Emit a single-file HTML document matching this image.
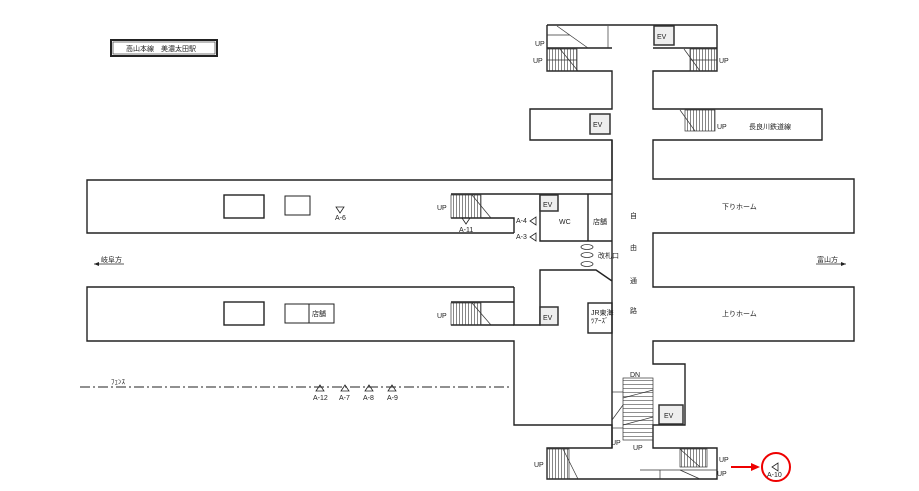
<!DOCTYPE html>
<html><head><meta charset="utf-8"><style>
html,body{margin:0;padding:0;background:#fff;width:919px;height:491px;overflow:hidden}
svg{display:block}
text{font-family:"Liberation Sans","Noto Sans CJK JP",sans-serif;font-size:7px;fill:#222}
</style></head><body>
<svg width="919" height="491" viewBox="0 0 919 491" xmlns="http://www.w3.org/2000/svg">
<defs>
<pattern id="st" width="3" height="10" patternUnits="userSpaceOnUse"><line x1="0.5" y1="0" x2="0.5" y2="10" stroke="#333" stroke-width="0.6"/></pattern>
<pattern id="sth" width="10" height="4" patternUnits="userSpaceOnUse"><line x1="0" y1="0.5" x2="10" y2="0.5" stroke="#444" stroke-width="0.6"/></pattern>
</defs>
<g fill="none" stroke="#222" stroke-width="1.4">
<rect x="111" y="40" width="106" height="16" stroke-width="2"/>
<rect x="113" y="42" width="102" height="12" stroke-width="0.6"/>
<path d="M547 25 H717 M547 25 V71 H612 V109 H530 V140 H612 V180 H87 V233 H514"/>
<path d="M717 25 V71 H653 V109 H822 V140 H653 V179 H854 V233 H653 V287 H854 V341 H653 V364 H685 V425 H653 V448 H717 V479 H547 V448 H612 V425 H514 V341 H87 V287 H514"/>
<path d="M547 48 H612 M653 48 H717"/>
<path d="M514 287 V325 H540 V270 H596 L612 281 M612 140 V448"/>
<path d="M451 194 H612 M451 218 H514 V233 M540 194 V241 H612 M588 194 V241"/>
<path d="M451 302 H514 M451 325 H514"/>
<rect x="588" y="303" width="24" height="30"/>
<rect x="224" y="195" width="40" height="23"/>
<rect x="285" y="196" width="25" height="19" stroke-width="1"/>
<rect x="224" y="302" width="40" height="23"/>
<rect x="285" y="304" width="49" height="19" stroke-width="1"/>
<line x1="309" y1="304" x2="309" y2="323" stroke-width="1"/>
</g>
<g stroke="#333" stroke-width="0.7">
<rect x="547" y="49" width="30" height="22" fill="url(#st)"/>
<rect x="690" y="49" width="27" height="22" fill="url(#st)"/>
<rect x="685" y="110" width="30" height="21" fill="url(#st)"/>
<rect x="451" y="195" width="30" height="23" fill="url(#st)"/>
<rect x="451" y="303" width="30" height="22" fill="url(#st)"/>
<rect x="547" y="449" width="22" height="30" fill="url(#st)"/>
<rect x="680" y="449" width="27" height="18" fill="url(#st)"/>
<rect x="623" y="378" width="30" height="62" fill="url(#sth)"/>
<line x1="557" y1="26" x2="588" y2="48"/><line x1="608" y1="26" x2="608" y2="48"/>
<line x1="547" y1="35" x2="570" y2="35"/>
<line x1="547" y1="60" x2="577" y2="60"/><line x1="690" y1="60" x2="717" y2="60"/>
<line x1="560" y1="49" x2="578" y2="71"/><line x1="684" y1="49" x2="700" y2="71"/>
<line x1="680" y1="110" x2="695" y2="131"/>
<line x1="472" y1="195" x2="491" y2="218"/><line x1="472" y1="303" x2="491" y2="325"/>
<line x1="563" y1="449" x2="578" y2="479"/><line x1="680" y1="449" x2="700" y2="467"/>
<line x1="680" y1="470" x2="700" y2="479"/>
<line x1="640" y1="470" x2="717" y2="470"/><line x1="660" y1="470" x2="660" y2="479"/>
<line x1="612" y1="392" x2="623" y2="392"/><line x1="612" y1="428" x2="623" y2="428"/>
<line x1="623" y1="398" x2="653" y2="390"/><line x1="623" y1="425" x2="653" y2="417"/>
<line x1="612" y1="420" x2="623" y2="405"/>
</g>
<g fill="#eee" stroke="#333" stroke-width="1.5">
<rect x="654" y="26" width="20" height="19"/><rect x="590" y="114" width="20" height="20"/>
<rect x="540" y="195" width="18" height="16"/><rect x="540" y="307" width="18" height="18"/>
<rect x="659" y="405" width="24" height="19"/>
</g>
<g font-size="7">
<text x="657" y="39">EV</text><text x="593" y="127">EV</text><text x="543" y="207">EV</text><text x="543" y="320">EV</text><text x="664" y="418">EV</text>
</g>
<g fill="none" stroke="#333" stroke-width="0.8"><ellipse cx="587" cy="247" rx="6" ry="2.5"/><ellipse cx="587" cy="255" rx="6" ry="2.5"/><ellipse cx="587" cy="264" rx="6" ry="2.5"/></g>
<line x1="80" y1="387" x2="512" y2="387" stroke="#222" stroke-width="1" stroke-dasharray="10,3,2,3"/>
<line x1="94" y1="264" x2="124" y2="264" stroke="#222" stroke-width="0.8"/><path d="M94 264 l5 -2 v4z" fill="#222"/>
<line x1="816" y1="264" x2="846" y2="264" stroke="#222" stroke-width="0.8"/><path d="M846 264 l-5 -2 v4z" fill="#222"/>
<g fill="none" stroke="#222" stroke-width="0.8">
<path d="M336 207 h8 l-4 6z"/><path d="M462 218 h8 l-4 6z"/>
<path d="M536 217 v8 l-6 -4z"/><path d="M536 233 v8 l-6 -4z"/>
<path d="M316 391 h8 l-4 -6z"/><path d="M341 391 h8 l-4 -6z"/><path d="M365 391 h8 l-4 -6z"/><path d="M388 391 h8 l-4 -6z"/>
<path d="M778 463 v8 l-6 -4z"/>
</g>
<circle cx="776" cy="467" r="14" fill="none" stroke="#e00" stroke-width="2"/>
<line x1="731" y1="467" x2="752" y2="467" stroke="#e00" stroke-width="2"/><path d="M760 467 l-9 -4 v8z" fill="#e00"/>
<text x="126" y="51" font-size="8">高山本線　美濃太田駅</text>
<text x="535" y="46">UP</text><text x="533" y="63">UP</text><text x="719" y="63">UP</text><text x="717" y="129">UP</text>
<text x="749" y="129">長良川鉄道線</text>
<text x="437" y="210">UP</text><text x="437" y="318">UP</text>
<text x="335" y="220">A-6</text><text x="459" y="232">A-11</text>
<text x="516" y="223">A-4</text><text x="516" y="239">A-3</text>
<text x="559" y="224">WC</text><text x="593" y="224">店舗</text>
<text x="598" y="258">改札口</text>
<text x="630" y="218">自</text><text x="630" y="250">由</text><text x="630" y="283">通</text><text x="630" y="313">路</text>
<text x="591" y="315" font-size="6">JR東海</text><text x="591" y="323" font-size="6">ﾂｱｰｽﾞ</text>
<text x="312" y="316">店舗</text>
<text x="722" y="209">下りホーム</text><text x="722" y="316">上りホーム</text>
<text x="101" y="262">岐阜方</text><text x="817" y="262">富山方</text>
<text x="111" y="384">ﾌｪﾝｽ</text>
<text x="313" y="400">A-12</text><text x="339" y="400">A-7</text><text x="363" y="400">A-8</text><text x="387" y="400">A-9</text>
<text x="630" y="377">DN</text><text x="611" y="445">UP</text><text x="633" y="450">UP</text>
<text x="534" y="467">UP</text><text x="719" y="462">UP</text><text x="717" y="476">UP</text>
<text x="767" y="477">A-10</text>
</svg>
</body></html>
